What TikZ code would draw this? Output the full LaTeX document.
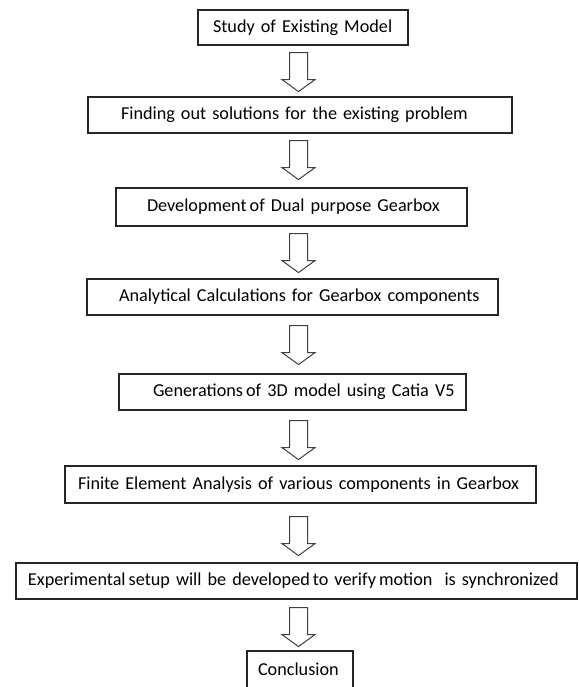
\documentclass[tikz,border=0pt]{standalone}
\usepackage{fontspec}
\setmainfont{Carlito}
\usetikzlibrary{calc}
\tikzset{
  stepbox/.style={draw=black!85, line width=1.2pt, rectangle, font=\fontsize{18.2pt}{20pt}\selectfont,
    align=left, inner xsep=0pt, inner ysep=0pt, text height=13.5pt, text depth=3.5pt},
  barrow/.style={draw=black!75, line width=1pt, fill=white, line join=miter}
}
\newcommand\blockarrow[2]{%
  \draw[barrow] ($(ax |- #1.south)+(0,-#2)$) ++(-9,0) -- ++(18,0) -- ++(0,-27) -- ++(7.5,0)
    -- ++(-16.5,-12) -- ++(-16.5,12) -- ++(7.5,0) -- cycle;}
\newcommand\mkbox[7]{% name, cx, cy, w, h, offset, text
  \node[stepbox, minimum height=#5pt, text width=#4pt] (#1) at (#2,#3) {\hspace*{#6pt}\mbox{#7}};}
\begin{document}
\begin{tikzpicture}[x=1pt,y=1pt]
\useasboundingbox (0,0) rectangle (578,687);
\clip (0,0) rectangle (578,687);
\coordinate (ax) at (298.5,0);
\mkbox{b1}{303}{659.5}{210}{35}{15}{Study of Existing Model}
\mkbox{b2}{300}{572}{424}{36}{33}{Finding out solutions for the existing problem}
\mkbox{b3}{291.5}{480}{351}{38}{31}{Development\,of Dual purpose Gearbox}
\mkbox{b4}{292.5}{390}{411}{36}{32}{Analytical Calculations for Gearbox components}
\mkbox{b5}{292.5}{295}{347}{36}{34}{Generations\,of 3D model using Catia V5}
\mkbox{b6}{300.5}{202.5}{471}{37}{13}{Finite Element Analysis of various components in Gearbox}
\mkbox{b7}{296.5}{106}{561}{36}{12}{Experimental\,setup will be developed\,to verify\,motion\ \ is synchronized}
\mkbox{b8}{300}{16}{106}{40}{11}{Conclusion}
\blockarrow{b1}{7}
\blockarrow{b2}{7}
\blockarrow{b3}{7}
\blockarrow{b4}{10}
\blockarrow{b5}{10}
\blockarrow{b6}{13}
\blockarrow{b7}{8}
\end{tikzpicture}
\end{document}
